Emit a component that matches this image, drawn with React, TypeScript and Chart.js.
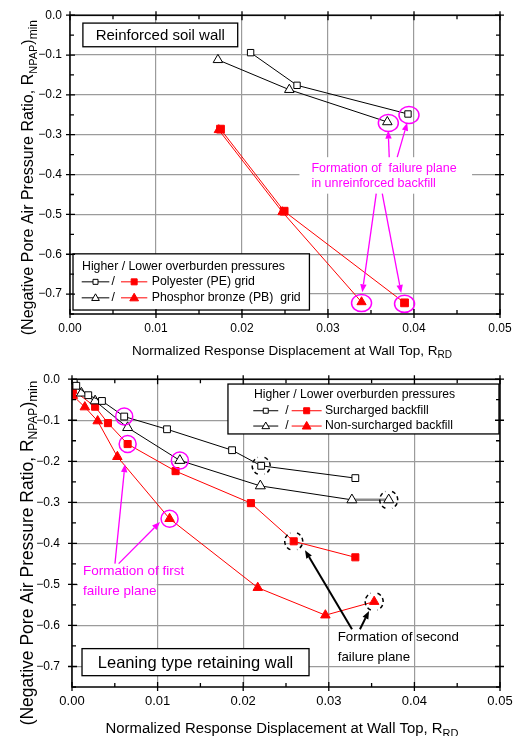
import React, { useEffect, useRef } from 'react';
import { Chart, registerables } from 'chart.js';
Chart.register(...registerables);

const FONT = '"Liberation Sans", Arial, Helvetica, sans-serif';
const BLACK = '#000000';
const RED = '#ff0000';
const MAGENTA = '#ff00ff';
const GRID = '#9b9b9b';

// ---- axis ticks
const xTickValues = [0, 0.01, 0.02, 0.03, 0.04, 0.05];
const yTickValues = [0, -0.1, -0.2, -0.3, -0.4, -0.5, -0.6, -0.7];

// ---- top chart: Reinforced soil wall
const peHigherX = [0.021, 0.0264, 0.0393];
const peHigherY = [-0.094, -0.176, -0.248];
const pbHigherX = [0.0172, 0.0255, 0.0369];
const pbHigherY = [-0.112, -0.187, -0.268];
const peLowerX = [0.0175, 0.0249, 0.0389];
const peLowerY = [-0.286, -0.492, -0.722];
const pbLowerX = [0.0173, 0.0247, 0.0339];
const pbLowerY = [-0.288, -0.494, -0.72];

// ---- bottom chart: Leaning type retaining wall
const surHigherX = [0.0002, 0.0005, 0.0019, 0.0035, 0.0061, 0.0111, 0.0187, 0.0221, 0.0331];
const surHigherY = [-0.004, -0.016, -0.039, -0.053, -0.091, -0.122, -0.173, -0.211, -0.241];
const nonHigherX = [0.0002, 0.0011, 0.0027, 0.0065, 0.0126, 0.022, 0.0327, 0.037];
const nonHigherY = [-0.006, -0.034, -0.053, -0.118, -0.198, -0.26, -0.294, -0.294];
const surLowerX = [0.0001, 0.0027, 0.0042, 0.0065, 0.0121, 0.0209, 0.0259, 0.0331];
const surLowerY = [-0.026, -0.067, -0.107, -0.158, -0.224, -0.302, -0.395, -0.434];
const nonLowerX = [0.0001, 0.0015, 0.003, 0.0053, 0.0114, 0.0217, 0.0296, 0.0353];
const nonLowerY = [-0.04, -0.068, -0.102, -0.189, -0.34, -0.508, -0.575, -0.542];

// ---- texts
const topLegendHeader = 'Higher / Lower overburden pressures';
const topLegendRows = ['Polyester (PE) grid', 'Phosphor bronze (PB)  grid'];
const bottomLegendRows = ['Surcharged backfill', 'Non-surcharged backfill'];
const topLabel = 'Reinforced soil wall';
const bottomLabel = 'Leaning type retaining wall';
const topNote = ['Formation of  failure plane', 'in unreinforced backfill'];
const firstNote = ['Formation of first', 'failure plane'];
const secondNote = ['Formation of second', 'failure plane'];

type XY = { x: number; y: number };
const zip = (xs: number[], ys: number[]): XY[] => xs.map((x, i) => ({ x, y: ys[i] }));

function series(label: string, xs: number[], ys: number[], color: string, style: string, filled: boolean, r: number, extra: any = {}) {
  return {
    label,
    data: zip(xs, ys),
    showLine: true,
    borderColor: color,
    borderWidth: 1,
    pointStyle: style,
    pointRadius: r,
    pointBorderColor: color,
    pointBackgroundColor: filled ? color : '#ffffff',
    pointBorderWidth: 1,
    ...extra,
  };
}

function rich(ctx: CanvasRenderingContext2D, parts: [string, number, number][], x: number, y: number, align: 'left' | 'center', color = BLACK) {
  let w = 0;
  for (const [t, s] of parts) {
    ctx.font = `${s}px ${FONT}`;
    w += ctx.measureText(t).width;
  }
  let cx = align === 'center' ? x - w / 2 : x;
  ctx.textAlign = 'left';
  ctx.textBaseline = 'alphabetic';
  ctx.fillStyle = color;
  for (const [t, s, dy] of parts) {
    ctx.font = `${s}px ${FONT}`;
    ctx.fillText(t, cx, y + dy);
    cx += ctx.measureText(t).width;
  }
}

function marker(ctx: CanvasRenderingContext2D, style: string, x: number, y: number, r: number, color: string, filled: boolean) {
  ctx.beginPath();
  if (style === 'rect') {
    ctx.rect(x - r, y - r, 2 * r, 2 * r);
  } else {
    const h = r * 1.15;
    ctx.moveTo(x, y - h);
    ctx.lineTo(x + h * 0.95, y + h * 0.65);
    ctx.lineTo(x - h * 0.95, y + h * 0.65);
    ctx.closePath();
  }
  ctx.fillStyle = filled ? color : '#fff';
  ctx.fill();
  ctx.strokeStyle = color;
  ctx.lineWidth = 1;
  ctx.stroke();
}

function arrow(ctx: CanvasRenderingContext2D, x1: number, y1: number, x2: number, y2: number, color: string, lw: number) {
  const ang = Math.atan2(y2 - y1, x2 - x1);
  const hl = 8, hw = 3.2;
  const bx = x2 - Math.cos(ang) * hl, by = y2 - Math.sin(ang) * hl;
  ctx.strokeStyle = color;
  ctx.lineWidth = lw;
  ctx.beginPath();
  ctx.moveTo(x1, y1);
  ctx.lineTo(bx, by);
  ctx.stroke();
  ctx.beginPath();
  ctx.moveTo(x2, y2);
  ctx.lineTo(bx + Math.sin(ang) * hw, by - Math.cos(ang) * hw);
  ctx.lineTo(bx - Math.sin(ang) * hw, by + Math.cos(ang) * hw);
  ctx.closePath();
  ctx.fillStyle = color;
  ctx.fill();
}

function whiteBox(ctx: CanvasRenderingContext2D, x0: number, y0: number, x1: number, y1: number, border: boolean) {
  ctx.fillStyle = '#fff';
  ctx.fillRect(x0, y0, x1 - x0, y1 - y0);
  if (border) {
    ctx.strokeStyle = BLACK;
    ctx.lineWidth = 1.3;
    ctx.strokeRect(x0, y0, x1 - x0, y1 - y0);
  }
}

function legendRow(ctx: CanvasRenderingContext2D, bx: number, by: number, o: number[], style: string, label: string, fs: number) {
  // o: [blackStart, blackEnd, slashX, redStart, redEnd, textX]
  ctx.lineWidth = 1;
  ctx.strokeStyle = BLACK;
  ctx.beginPath(); ctx.moveTo(bx + o[0], by); ctx.lineTo(bx + o[1], by); ctx.stroke();
  marker(ctx, style, bx + (o[0] + o[1]) / 2, by, style === 'rect' ? 2.5 : 3.5, BLACK, false);
  ctx.strokeStyle = RED;
  ctx.beginPath(); ctx.moveTo(bx + o[3], by); ctx.lineTo(bx + o[4], by); ctx.stroke();
  marker(ctx, style, bx + (o[3] + o[4]) / 2, by, style === 'rect' ? 3 : 4, RED, true);
  ctx.fillStyle = BLACK;
  ctx.font = `${fs}px ${FONT}`;
  ctx.textAlign = 'center';
  ctx.textBaseline = 'middle';
  ctx.fillText('/', bx + o[2], by);
  ctx.textAlign = 'left';
  ctx.fillText(label, bx + o[5], by);
}

function dashedParens(ctx: CanvasRenderingContext2D, x: number, y: number) {
  ctx.save();
  ctx.strokeStyle = BLACK;
  ctx.lineWidth = 1.5;
  ctx.setLineDash([4, 3]);
  ctx.beginPath();
  ctx.arc(x, y, 9, Math.PI * 0.62, Math.PI * 1.38);
  ctx.stroke();
  ctx.beginPath();
  ctx.arc(x, y, 9, -Math.PI * 0.38, Math.PI * 0.38);
  ctx.stroke();
  ctx.restore();
}

function magentaCircle(ctx: CanvasRenderingContext2D, x: number, y: number, rx: number, ry: number) {
  ctx.strokeStyle = MAGENTA;
  ctx.lineWidth = 1.5;
  ctx.beginPath();
  ctx.ellipse(x, y, rx, ry, 0, 0, Math.PI * 2);
  ctx.stroke();
}

type Deco = (ctx: CanvasRenderingContext2D, X: (v: number) => number, Y: (v: number) => number, a: any) => void;

function makeConfig(p: {
  datasets: any[]; canvasH: number; left: number; top: number; bottom: number; right: number;
  xFont: number; yFont: number; xPad: number; yPad: number; decorate: Deco; titles: Deco;
}) {
  const xH = 30;
  const frame = {
    id: 'frame',
    afterDraw(chart: any) {
      const ctx: CanvasRenderingContext2D = chart.ctx;
      const a = chart.chartArea;
      const X = (v: number) => chart.scales.x.getPixelForValue(v);
      const Y = (v: number) => chart.scales.y.getPixelForValue(v);
      ctx.save();
      p.decorate(ctx, X, Y, a);
      // frame
      ctx.strokeStyle = BLACK;
      ctx.lineWidth = 1.5;
      ctx.strokeRect(a.left, a.top, a.right - a.left, a.bottom - a.top);
      // ticks
      ctx.lineWidth = 1.3;
      ctx.beginPath();
      for (let i = 0; i <= 10; i++) {
        const v = i * 0.005;
        const px = X(v);
        const major = i % 2 === 0;
        const inL = major ? 5 : 4, outL = major ? 4 : 0;
        ctx.moveTo(px, a.bottom + outL); ctx.lineTo(px, a.bottom - inL);
        ctx.moveTo(px, a.top - outL); ctx.lineTo(px, a.top + inL);
      }
      for (let i = 0; i <= 15; i++) {
        const v = -i * 0.05;
        const py = Y(v);
        const major = i % 2 === 0;
        const inL = major ? 5 : 4, outL = major ? 4 : 0;
        ctx.moveTo(a.left - outL, py); ctx.lineTo(a.left + inL, py);
        ctx.moveTo(a.right + outL, py); ctx.lineTo(a.right - inL, py);
      }
      ctx.stroke();
      p.titles(ctx, X, Y, a);
      ctx.restore();
    },
  };
  return {
    type: 'scatter' as const,
    data: { datasets: p.datasets },
    options: {
      responsive: false,
      animation: false as const,
      devicePixelRatio: 1,
      layout: { padding: { left: 0, right: 521 - p.right, top: p.top, bottom: p.canvasH - p.bottom - xH } },
      plugins: { legend: { display: false }, tooltip: { enabled: false } },
      scales: {
        x: {
          type: 'linear' as const,
          min: 0,
          max: 0.05,
          afterBuildTicks: (s: any) => { s.ticks = xTickValues.map((v) => ({ value: v })); },
          afterFit: (s: any) => { s.height = xH; },
          ticks: {
            callback: (v: any) => Number(v).toFixed(2),
            font: { family: FONT, size: p.xFont },
            color: BLACK,
            padding: p.xPad,
            maxRotation: 0,
            autoSkip: false,
          },
          grid: { color: GRID, lineWidth: 1.2, drawTicks: false },
          border: { display: false },
        },
        y: {
          type: 'linear' as const,
          min: -0.75,
          max: 0,
          afterBuildTicks: (s: any) => { s.ticks = yTickValues.map((v) => ({ value: v })); },
          afterFit: (s: any) => { s.width = p.left; },
          ticks: {
            callback: (v: any) => (Math.abs(v) < 1e-9 ? '0.0' : '\u2212' + Math.abs(Number(v)).toFixed(1)),
            font: { family: FONT, size: p.yFont },
            color: BLACK,
            padding: p.yPad,
            autoSkip: false,
          },
          grid: { color: GRID, lineWidth: 1.2, drawTicks: false },
          border: { display: false },
        },
      },
    },
    plugins: [frame],
  };
}

// ---------------- top chart config
const topConfig = () =>
  makeConfig({
    canvasH: 360, left: 70, top: 11, bottom: 314, right: 500,
    xFont: 12, yFont: 12, xPad: 7, yPad: 8,
    datasets: [
      series('PE higher', peHigherX, peHigherY, BLACK, 'rect', false, 4.5),
      series('PB higher', pbHigherX, pbHigherY, BLACK, 'triangle', false, 5.5),
      series('PE lower', peLowerX, peLowerY, RED, 'rect', true, 5.5),
      series('PB lower', pbLowerX, pbLowerY, RED, 'triangle', true, 5.3),
    ],
    decorate: (ctx, X, Y) => {
      // title box
      const bx0 = X(0.0015), bx1 = X(0.0195), by0 = Y(-0.0198), by1 = Y(-0.0792);
      whiteBox(ctx, bx0, by0, bx1, by1, true);
      ctx.fillStyle = BLACK;
      ctx.font = `15px ${FONT}`;
      ctx.textAlign = 'center';
      ctx.textBaseline = 'middle';
      ctx.fillText(topLabel, (bx0 + bx1) / 2, (by0 + by1) / 2 + 1);
      // note background + text
      whiteBox(ctx, X(0.02668), Y(-0.3564), X(0.04675), Y(-0.448), false);
      ctx.fillStyle = MAGENTA;
      ctx.font = `12.5px ${FONT}`;
      ctx.textAlign = 'left';
      ctx.fillText(topNote[0], X(0.02807), Y(-0.3837));
      ctx.fillText(topNote[1], X(0.02807), Y(-0.4233));
      // circles
      magentaCircle(ctx, X(pbHigherX[2]) + 1, Y(pbHigherY[2]) + 1, 10, 8.5);
      magentaCircle(ctx, X(peHigherX[2]) + 1, Y(peHigherY[2]) + 1, 10, 8.5);
      magentaCircle(ctx, X(pbLowerX[2]), Y(pbLowerY[2]) + 1, 10, 8.5);
      magentaCircle(ctx, X(peLowerX[2]), Y(peLowerY[2]) + 1, 10, 8.5);
      // arrows
      arrow(ctx, X(0.03712), Y(-0.3564), X(0.0370), Y(-0.2896), MAGENTA, 1.3);
      arrow(ctx, X(0.03805), Y(-0.3564), X(0.03921), Y(-0.2698), MAGENTA, 1.3);
      arrow(ctx, X(0.03561), Y(-0.448), X(0.03399), Y(-0.6955), MAGENTA, 1.3);
      arrow(ctx, X(0.03631), Y(-0.448), X(0.03851), Y(-0.697), MAGENTA, 1.3);
      // legend
      const lx0 = X(0.00035), lx1 = X(0.02784), ly0 = Y(-0.599), ly1 = Y(-0.740);
      whiteBox(ctx, lx0, ly0, lx1, ly1, true);
      ctx.fillStyle = BLACK;
      ctx.font = `12.3px ${FONT}`;
      ctx.textAlign = 'left';
      ctx.textBaseline = 'middle';
      ctx.fillText(topLegendHeader, lx0 + 9, ly0 + 12.5);
      const o = [8.7, 36.3, 40.3, 48, 74.3, 78.7];
      legendRow(ctx, lx0, ly0 + 28, o, 'rect', topLegendRows[0], 12.3);
      legendRow(ctx, lx0, ly0 + 44, o, 'triangle', topLegendRows[1], 12.3);
    },
    titles: (ctx, X, Y, a) => {
      rich(ctx, [['Normalized Response Displacement at Wall Top, R', 13.5, 0], ['RD', 10, 3]], (a.left + a.right) / 2 + 7, 355, 'center');
      ctx.save();
      ctx.translate(33, (a.top + a.bottom) / 2 + 13);
      ctx.rotate(-Math.PI / 2);
      rich(ctx, [['(Negative Pore Air Pressure Ratio, R', 16, 0], ['NPAP', 11, 4], [')', 16, 0], ['min', 12, 4]], 0, 0, 'center');
      ctx.restore();
    },
  });

// ---------------- bottom chart config
const bottomConfig = () =>
  makeConfig({
    canvasH: 376, left: 72, top: 9, bottom: 327, right: 500,
    xFont: 13, yFont: 12, xPad: 7, yPad: 12,
    datasets: [
      series('Surcharged higher', surHigherX, surHigherY, BLACK, 'rect', false, 4.8),
      series('Non-surcharged higher', nonHigherX, nonHigherY, BLACK, 'triangle', false, 5.8, {
        segment: {
          borderColor: (c: any) => (c.p0DataIndex === 6 ? '#8a8a8a' : undefined),
          borderWidth: (c: any) => (c.p0DataIndex === 6 ? 2.5 : undefined),
        },
      }),
      series('Surcharged lower', surLowerX, surLowerY, RED, 'rect', true, 5),
      series('Non-surcharged lower', nonLowerX, nonLowerY, RED, 'triangle', true, 5.5),
    ],
    decorate: (ctx, X, Y) => {
      // legend
      const lx0 = X(0.01822), lx1 = X(0.04988), ly0 = Y(-0.0118), ly1 = Y(-0.1334);
      whiteBox(ctx, lx0, ly0, lx1, ly1, true);
      ctx.fillStyle = BLACK;
      ctx.font = `12.2px ${FONT}`;
      ctx.textAlign = 'left';
      ctx.textBaseline = 'middle';
      ctx.fillText(topLegendHeader, lx0 + 26, ly0 + 10.5);
      const o = [25.3, 50.3, 59, 63.7, 93.7, 97];
      legendRow(ctx, lx0, ly0 + 26.7, o, 'rect', bottomLegendRows[0], 12.2);
      legendRow(ctx, lx0, ly0 + 42, o, 'triangle', bottomLegendRows[1], 12.2);
      // bottom label box
      const bx0 = X(0.00117), bx1 = X(0.02769), by0 = Y(-0.6565), by1 = Y(-0.7224);
      whiteBox(ctx, bx0, by0, bx1, by1, true);
      ctx.fillStyle = BLACK;
      ctx.font = `16.5px ${FONT}`;
      ctx.textAlign = 'center';
      ctx.textBaseline = 'middle';
      ctx.fillText(bottomLabel, (bx0 + bx1) / 2, (by0 + by1) / 2 + 1);
      // first failure note
      whiteBox(ctx, X(0.0007), Y(-0.452), X(0.0099), Y(-0.535), false);
      ctx.fillStyle = MAGENTA;
      ctx.font = `13.5px ${FONT}`;
      ctx.textAlign = 'left';
      ctx.textBaseline = 'middle';
      ctx.fillText(firstNote[0], X(0.00129), Y(-0.4682));
      ctx.fillText(firstNote[1], X(0.00129), Y(-0.5176));
      magentaCircle(ctx, X(surHigherX[4]), Y(surHigherY[4]), 8.5, 8.5);
      magentaCircle(ctx, X(surLowerX[3]), Y(surLowerY[3]), 8.5, 8.5);
      magentaCircle(ctx, X(nonHigherX[4]), Y(nonHigherY[4]), 8.5, 8.5);
      magentaCircle(ctx, X(nonLowerX[4]), Y(nonLowerY[4]), 8.5, 8.5);
      arrow(ctx, X(0.00502), Y(-0.4494), X(0.00619), Y(-0.2071), MAGENTA, 1.3);
      arrow(ctx, X(0.00545), Y(-0.4494), X(0.01028), Y(-0.3482), MAGENTA, 1.3);
      // second failure
      dashedParens(ctx, X(surHigherX[7]), Y(surHigherY[7]));
      dashedParens(ctx, X(nonHigherX[7]), Y(nonHigherY[7]));
      dashedParens(ctx, X(surLowerX[6]), Y(surLowerY[6]));
      dashedParens(ctx, X(nonLowerX[7]), Y(nonLowerY[7]));
      arrow(ctx, X(0.03271), Y(-0.6094), X(0.02722), Y(-0.4165), BLACK, 2);
      arrow(ctx, X(0.03364), Y(-0.6094), X(0.0347), Y(-0.5647), BLACK, 2);
      ctx.fillStyle = BLACK;
      ctx.font = `13.3px ${FONT}`;
      ctx.textAlign = 'left';
      ctx.textBaseline = 'middle';
      ctx.fillText(secondNote[0], X(0.03104), Y(-0.6282));
      ctx.fillText(secondNote[1], X(0.03104), Y(-0.6776));
    },
    titles: (ctx, X, Y, a) => {
      rich(ctx, [['Normalized Response Displacement at Wall Top, R', 14.9, 0], ['RD', 11, 3.5]], (a.left + a.right) / 2 - 4, 373, 'center');
      ctx.save();
      ctx.translate(32.5, (a.top + a.bottom) / 2 + 20);
      ctx.rotate(-Math.PI / 2);
      rich(ctx, [['(Negative Pore Air Pressure Ratio, R', 17.5, 0], ['NPAP', 12, 4.5], [')', 17.5, 0], ['min', 13, 4.5]], 0, 0, 'center');
      ctx.restore();
    },
  });

function Panel({ top, height, build }: { top: number; height: number; build: () => any }) {
  const ref = useRef<HTMLCanvasElement>(null);
  useEffect(() => {
    const chart = new Chart(ref.current as HTMLCanvasElement, build());
    return () => chart.destroy();
  }, []);
  return (
    <canvas
      ref={ref}
      width={521}
      height={height}
      style={{ position: 'absolute', left: 0, top, width: 521, height, display: 'block' }}
    />
  );
}

export default function App() {
  return (
    <div style={{ position: 'absolute', left: 0, top: 0, width: 521, height: 736, background: '#fff', overflow: 'hidden' }}>
      <Panel top={0} height={360} build={topConfig} />
      <Panel top={360} height={376} build={bottomConfig} />
    </div>
  );
}
